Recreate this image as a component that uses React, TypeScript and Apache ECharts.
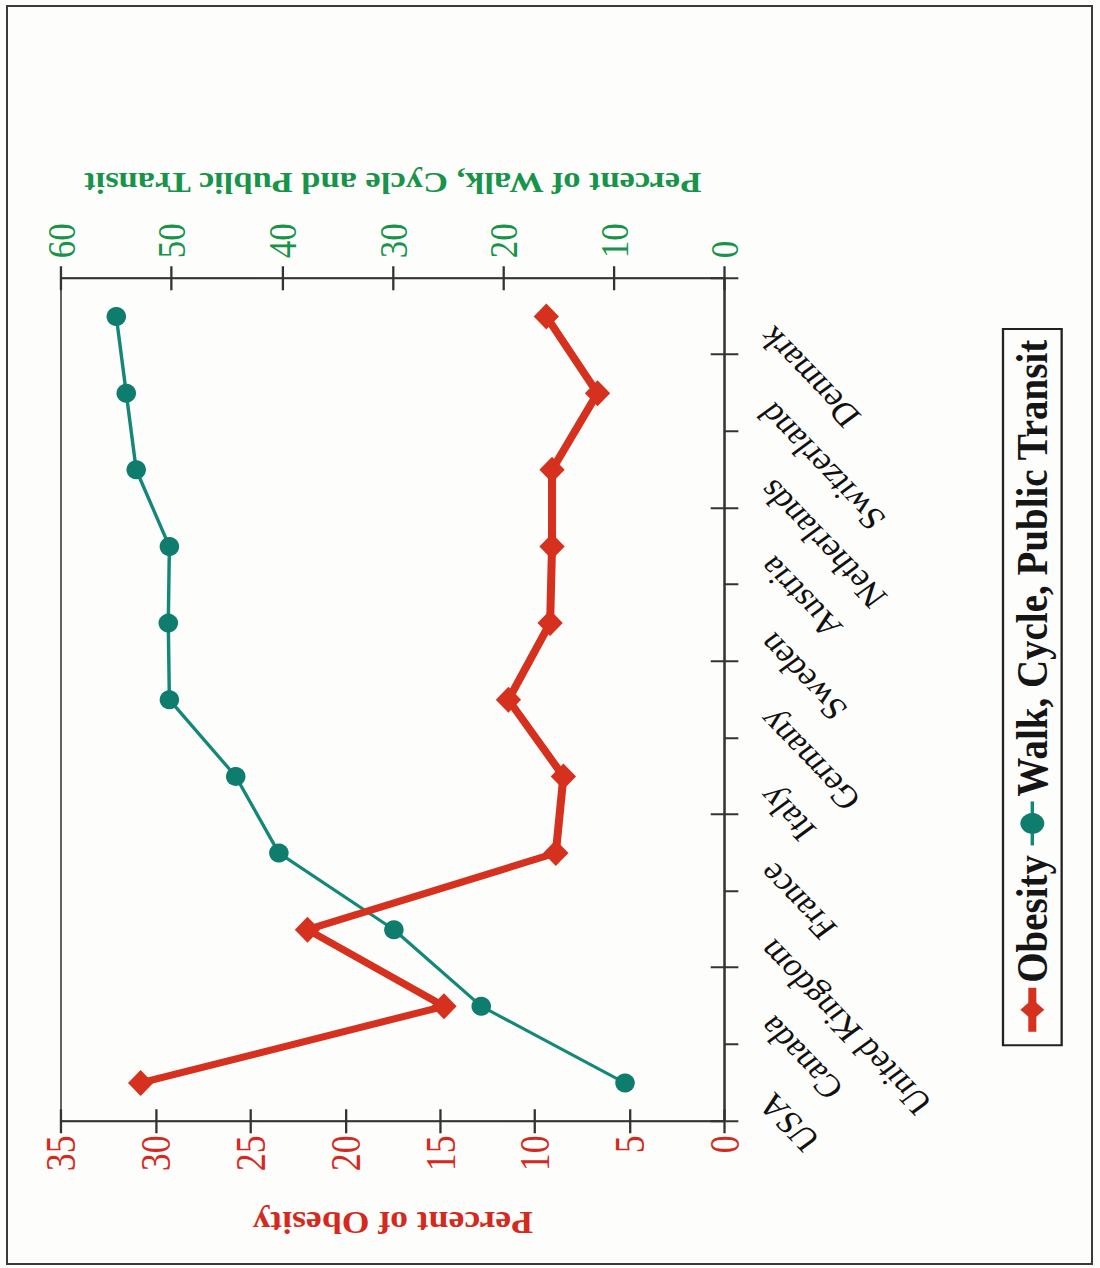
import React, { useEffect, useRef } from "react";
import * as echarts from "echarts";

// ---- data ----
const countries = [
  "USA",
  "Canada",
  "United Kingdom",
  "France",
  "Italy",
  "Germany",
  "Sweden",
  "Austria",
  "Netherlands",
  "Switzerland",
  "Denmark",
];
const obesity = [30.8, 14.8, 22.0, 8.9, 8.5, 11.4, 9.2, 9.1, 9.1, 6.7, 9.4];
const walkCycleTransit = [9.0, 22.0, 29.9, 40.3, 44.2, 50.2, 50.3, 50.2, 53.2, 54.1, 55.0];
const obesityTicks = { min: 0, max: 35, interval: 5 };
const walkTicks = { min: 0, max: 60, interval: 10 };
const seriesNames = ["Obesity", "Walk, Cycle, Public Transit"];

// ---- layout (chart is drawn upright, then turned a quarter turn) ----
const PAGE_W = 1100;
const PAGE_H = 1268;
const K = 1.15; // slight stretch seen in the scanned figure
const W0 = PAGE_H;
const H0 = PAGE_W / K;
const yp = (X: number) => H0 / 2 + (X - PAGE_W / 2) / K;

const FONT = '"Liberation Serif", "Times New Roman", serif';
const RED = "#d6301f";
const RED_TEXT = "#d42a1e";
const TEAL = "#0f7d6d";
const GREEN_TEXT = "#17944a";
const AXIS = "#333333";

export default function App() {
  const ref = useRef<HTMLDivElement>(null);

  useEffect(() => {
    if (!ref.current) return;
    const chart = echarts.init(ref.current, null, { renderer: "svg" });
    const gridTop = yp(61);
    const gridBottom = H0 - yp(724);
    const valueAxisBase = {
      type: "value",
      splitLine: { show: false },
      axisLine: { show: true, lineStyle: { color: AXIS, width: 2 } },
      axisTick: { show: true, inside: false, length: 12, lineStyle: { color: AXIS, width: 2 } },
    };
    const tickOnly = {
      splitLine: { show: false },
      axisLine: { show: false },
      axisLabel: { show: false },
      axisTick: { show: true, inside: true, length: 12, lineStyle: { color: AXIS, width: 2 } },
    };
    chart.setOption({
      animation: false,
      backgroundColor: "transparent",
      textStyle: { fontFamily: FONT },
      grid: {
        left: 147,
        right: W0 - 990,
        top: gridTop,
        bottom: gridBottom,
        show: true,
        borderColor: "#4a4a4a",
        borderWidth: 1.5,
        backgroundColor: "transparent",
      },
      legend: {
        left: 223,
        top: yp(1003),
        orient: "horizontal",
        data: [
          { name: seriesNames[0], lineStyle: { width: 7 } },
          { name: seriesNames[1], lineStyle: { width: 3 } },
        ],
        itemWidth: 44,
        itemHeight: 26,
        itemGap: 8,
        padding: [6, 10, 6, 10],
        borderColor: "#222",
        borderWidth: 2,
        textStyle: { fontFamily: FONT, fontWeight: "bold", fontSize: 39, color: "#151515" },
      },
      xAxis: [
        {
          type: "category",
          data: countries,
          position: "bottom",
          boundaryGap: true,
          axisLine: { show: true, lineStyle: { color: AXIS, width: 2 } },
          axisTick: { show: true, inside: false, length: 12, alignWithLabel: false, lineStyle: { color: AXIS, width: 2 } },
          axisLabel: {
            rotate: 40,
            margin: 22,
            interval: 0,
            padding: [0, 20, 0, 0],
            fontFamily: FONT,
            fontSize: 32,
            color: "#111",
          },
        },
        {
          type: "category",
          data: countries,
          position: "bottom",
          boundaryGap: true,
          ...tickOnly,
        },
      ],
      yAxis: [
        {
          ...valueAxisBase,
          position: "left",
          min: obesityTicks.min,
          max: obesityTicks.max,
          interval: obesityTicks.interval,
          name: "Percent of Obesity",
          nameLocation: "middle",
          nameRotate: 90,
          nameGap: 86,
          nameTextStyle: { fontFamily: FONT, fontWeight: "bold", fontSize: 31, color: RED_TEXT },
          axisLabel: { margin: 14, fontFamily: FONT, fontSize: 36, color: RED_TEXT },
        },
        {
          ...valueAxisBase,
          position: "right",
          min: walkTicks.min,
          max: walkTicks.max,
          interval: walkTicks.interval,
          name: "Percent of Walk, Cycle and Public Transit",
          nameLocation: "middle",
          nameRotate: 90,
          nameGap: 80,
          nameTextStyle: { fontFamily: FONT, fontWeight: "bold", fontSize: 30, color: GREEN_TEXT },
          axisLabel: { margin: 20, fontFamily: FONT, fontSize: 35, color: GREEN_TEXT },
        },
        {
          type: "value",
          position: "left",
          min: obesityTicks.min,
          max: obesityTicks.max,
          interval: obesityTicks.interval,
          ...tickOnly,
        },
        {
          type: "value",
          position: "right",
          min: walkTicks.min,
          max: walkTicks.max,
          interval: walkTicks.interval,
          ...tickOnly,
        },
      ],
      series: [
        {
          name: seriesNames[0],
          type: "line",
          xAxisIndex: 0,
          yAxisIndex: 0,
          data: obesity,
          symbol: "diamond",
          symbolSize: [26, 22],
          lineStyle: { color: RED, width: 7 },
          itemStyle: { color: RED },
          z: 3,
        },
        {
          name: seriesNames[1],
          type: "line",
          xAxisIndex: 0,
          yAxisIndex: 1,
          data: walkCycleTransit,
          symbol: "circle",
          symbolSize: [19, 17],
          lineStyle: { color: "#138878", width: 3 },
          itemStyle: { color: TEAL },
          z: 2,
        },
      ],
    });
    return () => chart.dispose();
  }, []);

  return (
    <div
      style={{
        position: "absolute",
        left: 0,
        top: 0,
        width: PAGE_W,
        height: PAGE_H,
        overflow: "hidden",
        background: "#fdfdfb",
      }}
    >
      <div
        ref={ref}
        style={{
          position: "absolute",
          width: W0,
          height: H0,
          left: PAGE_W / 2 - W0 / 2,
          top: PAGE_H / 2 - H0 / 2,
          transform: `scaleX(${K}) rotate(-90deg)`,
          transformOrigin: "center center",
        }}
      />
      <div
        style={{
          position: "absolute",
          left: 6,
          top: 5,
          width: 1087,
          height: 1260,
          border: "2px solid #3a3a3a",
          boxSizing: "border-box",
          pointerEvents: "none",
        }}
      />
    </div>
  );
}
